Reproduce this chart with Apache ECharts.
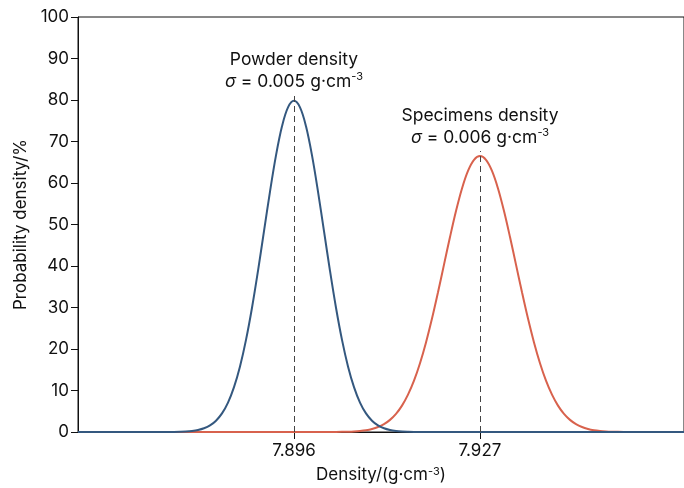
<!DOCTYPE html>
<html>
<head>
<meta charset="utf-8">
<script src="https://cdn.jsdelivr.net/npm/echarts@6/dist/echarts.min.js"></script>
<style>html,body{margin:0;padding:0;background:#fff}#c{width:684px;height:488px}</style>
</head>
<body>
<div id="c"></div>
<script>
// Powder density curve (x in g·cm^-3, y in %)
const powderX = [7.860, 7.876, 7.877, 7.878, 7.879, 7.880, 7.881, 7.882, 7.883, 7.884, 7.885, 7.886, 7.887, 7.888, 7.889, 7.890, 7.891, 7.892, 7.893, 7.894, 7.895, 7.896, 7.897, 7.898, 7.899, 7.900, 7.901, 7.902, 7.903, 7.904, 7.905, 7.906, 7.907, 7.908, 7.909, 7.910, 7.911, 7.912, 7.913, 7.914, 7.915, 7.916, 7.961];
const powderY = [0, 0.03, 0.06, 0.12, 0.25, 0.48, 0.89, 1.58, 2.72, 4.48, 7.09, 10.80, 15.79, 22.19, 29.95, 38.84, 48.40, 57.94, 66.65, 73.66, 78.21, 79.79, 78.21, 73.66, 66.65, 57.94, 48.40, 38.84, 29.95, 22.19, 15.79, 10.80, 7.09, 4.48, 2.72, 1.58, 0.89, 0.48, 0.25, 0.12, 0.06, 0.03, 0];
// Specimens density curve
const specX = [7.860, 7.903, 7.904, 7.905, 7.906, 7.907, 7.908, 7.909, 7.910, 7.911, 7.912, 7.913, 7.914, 7.915, 7.916, 7.917, 7.918, 7.919, 7.920, 7.921, 7.922, 7.923, 7.924, 7.925, 7.926, 7.927, 7.928, 7.929, 7.930, 7.931, 7.932, 7.933, 7.934, 7.935, 7.936, 7.937, 7.938, 7.939, 7.940, 7.941, 7.942, 7.943, 7.944, 7.945, 7.946, 7.947, 7.948, 7.949, 7.950, 7.951, 7.961];
const specY = [0, 0.02, 0.04, 0.08, 0.15, 0.26, 0.44, 0.74, 1.20, 1.90, 2.92, 4.37, 6.36, 9.00, 12.38, 16.58, 21.59, 27.33, 33.67, 40.33, 46.98, 53.24, 58.68, 62.90, 65.57, 66.49, 65.57, 62.90, 58.68, 53.24, 46.98, 40.33, 33.67, 27.33, 21.59, 16.58, 12.38, 9.00, 6.36, 4.37, 2.92, 1.90, 1.20, 0.74, 0.44, 0.26, 0.15, 0.08, 0.04, 0.02, 0];
// Means and dashed-line tops
const means = [7.896, 7.927];
const meanLineTop = [81.2, 67.7];
const annoTitles = ['Powder density', 'Specimens density'];
const annoSigma = ['0.005', '0.006'];
const xTicks = [7.896, 7.927];
const yMin = 0, yMax = 100, yStep = 10;
const xMin = 7.860, xMax = 7.961;

const FONT = 'Inter';
const blue = '#34587f';
const red = '#d8624d';

function zip(a, b) { return a.map((v, i) => [v, b[i]]); }
function meanLine(i) {
  return {
    silent: true,
    symbol: 'none',
    animation: false,
    lineStyle: { type: [6, 4], color: '#444', width: 1 },
    label: {
      show: true,
      position: 'end',
      distance: 2,
      formatter: '{t|' + annoTitles[i] + '}\n{s|σ}{t| = ' + annoSigma[i] + ' g·cm}{p|-3}',
      rich: {
        t: { fontFamily: FONT, fontSize: 17.5, color: '#111', lineHeight: 22 },
        s: { fontFamily: FONT, fontSize: 17.5, color: '#111', fontStyle: 'italic', lineHeight: 22 },
        p: { fontFamily: FONT, fontSize: 11, color: '#111', verticalAlign: 'top', lineHeight: 22, padding: [0, 0, 8, 0] }
      }
    },
    data: [[{ coord: [means[i], 0] }, { coord: [means[i], meanLineTop[i]] }]]
  };
}

const chart = echarts.init(document.getElementById('c'), null, { renderer: 'canvas' });
chart.setOption({
  animation: false,
  backgroundColor: '#fff',
  grid: { left: 78, right: 0, top: 17, bottom: 56, show: true, borderColor: '#111', borderWidth: 1, backgroundColor: 'transparent' },
  xAxis: {
    type: 'value', min: xMin, max: xMax,
    name: 'Density/(g·cm{p|-3})', nameLocation: 'middle', nameGap: 34,
    nameTextStyle: { fontFamily: FONT, fontSize: 17, color: '#111', rich: { p: { fontFamily: FONT, fontSize: 11, verticalAlign: 'top', color: '#111' } } },
    axisLine: { show: true, lineStyle: { color: '#111', width: 1 } },
    axisTick: { show: true, length: 7, customValues: xTicks, lineStyle: { color: '#111' } },
    axisLabel: { customValues: xTicks, fontFamily: FONT, fontSize: 17, color: '#111', margin: 10, formatter: v => v.toFixed(3) },
    splitLine: { show: false }
  },
  yAxis: {
    type: 'value', min: yMin, max: yMax, interval: yStep,
    name: 'Probability density/%', nameLocation: 'middle', nameGap: 41,
    nameTextStyle: { fontFamily: FONT, fontSize: 17, color: '#111' },
    axisLine: { show: true, lineStyle: { color: '#111', width: 1 } },
    axisTick: { show: true, length: 7, lineStyle: { color: '#111' } },
    axisLabel: { fontFamily: FONT, fontSize: 17, color: '#111', margin: 9 },
    splitLine: { show: false }
  },
  series: [
    { type: 'line', data: zip(specX, specY), showSymbol: false, smooth: 0.35, lineStyle: { color: red, width: 2 }, itemStyle: { color: red }, z: 2, markLine: meanLine(1) },
    { type: 'line', data: zip(powderX, powderY), showSymbol: false, smooth: 0.35, lineStyle: { color: blue, width: 2 }, itemStyle: { color: blue }, z: 3, markLine: meanLine(0) }
  ]
});
</script>
</body>
</html>
